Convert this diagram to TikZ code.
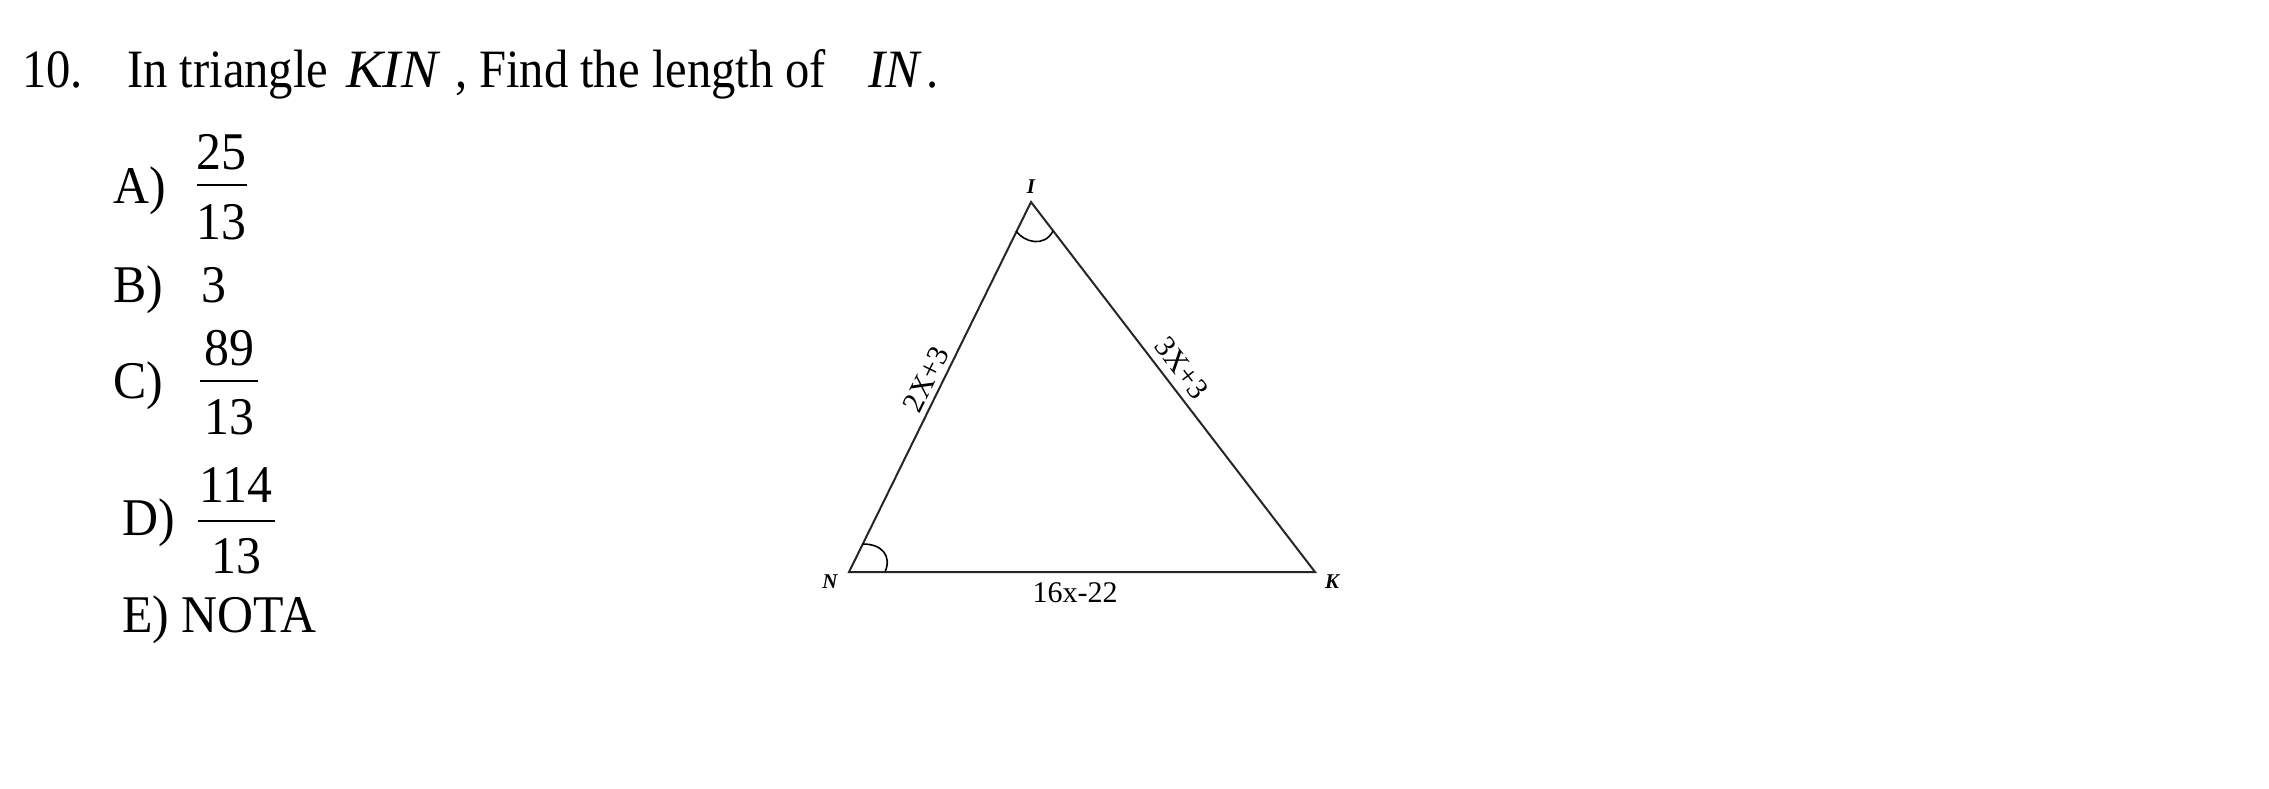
\documentclass[tikz,border=0pt]{standalone}
\usepackage{fontspec}
\setmainfont{Liberation Serif}
\newfontfamily\qfont[FakeStretch=0.9]{Liberation Serif}
\newfontfamily\qifont[FakeStretch=0.95]{Liberation Serif Italic}
\newfontfamily\kfont[FakeStretch=1.02]{Liberation Serif Italic}
\newfontfamily\afont[FakeStretch=0.94]{Liberation Serif}
\begin{document}
\begin{tikzpicture}[x=1pt,y=1pt,
  qtxt/.style={font=\qfont\fontsize{54}{60}\selectfont, inner sep=0pt},
  qitxt/.style={font=\qifont\fontsize{54}{60}\selectfont, inner sep=0pt},
  kitxt/.style={font=\kfont\fontsize{54}{60}\selectfont, inner sep=0pt},
  atxt/.style={font=\afont\fontsize{53}{60}\selectfont, inner sep=0pt},
  side/.style={draw=black!85, line width=2pt, line join=miter},
  angmark/.style={draw=black, line width=1.6pt},
  vlab/.style={font=\bfseries\itshape\fontsize{21}{24}\selectfont, inner sep=0pt},
  slab/.style={font=\fontsize{30}{34}\selectfont, inner sep=0pt},
  fbar/.style={draw=black, line width=2pt}]
\useasboundingbox (0,0) rectangle (2269,-788);

% question
\node[qtxt, anchor=base west] (num) at (22,-87) {10.};
\node[qtxt, anchor=base west] (q1) at (127,-87) {In triangle};
\node[kitxt, anchor=base west] (q2) at (346,-87) {KIN};
\node[qtxt, anchor=base west] (q3) at (455,-87) {,};
\node[qtxt, anchor=base west] (q4) at (479,-87) {Find the length of};
\node[qitxt, anchor=base west] (q5) at (868,-87) {IN};
\node[qtxt, anchor=base west] (q6) at (926,-87) {.};

% answers
\node[atxt, anchor=base west] (la) at (113,-203) {A)};
\node[atxt, anchor=base] (an) at (221,-169) {25};
\node[atxt, anchor=base] (ad) at (221,-239) {13};
\coordinate (ab1) at (197,-185); \coordinate (ab2) at (247,-185);
\draw[fbar] (ab1) -- (ab2);

\node[atxt, anchor=base west] (lb) at (113,-302) {B)};
\node[atxt, anchor=base west] (bv) at (201,-302) {3};

\node[atxt, anchor=base west] (lc) at (113,-398) {C)};
\node[atxt, anchor=base] (cn) at (229,-365) {89};
\node[atxt, anchor=base] (cd) at (229,-434) {13};
\coordinate (cb1) at (200,-381); \coordinate (cb2) at (258,-381);
\draw[fbar] (cb1) -- (cb2);

\node[atxt, anchor=base west] (ld) at (122,-535) {D)};
\node[atxt, anchor=base] (dn) at (236,-502) {114};
\node[atxt, anchor=base] (dd) at (236,-573) {13};
\coordinate (db1) at (198,-521); \coordinate (db2) at (275,-521);
\draw[fbar] (db1) -- (db2);

\node[atxt, anchor=base west] (le) at (122,-632) {E) NOTA};

% triangle
\coordinate (I) at (1031,-202);
\coordinate (N) at (849,-572);
\coordinate (K) at (1315,-572);
\draw[side] (N) -- (I) -- (K) -- cycle;

% angle marks
\draw[angmark] (1016,-231) .. controls (1024,-242) and (1044,-248) .. (1053,-231);
\draw[angmark] (863,-544) .. controls (882,-544) and (892,-556) .. (885,-572);

% vertex labels
\node[vlab] (lI) at (1031,-187) {I};
\node[vlab] (lN) at (830,-582) {N};
\node[vlab] (lK) at (1332,-582) {K};

% side labels
\node[slab, rotate=63.8] (sNI) at (926,-379) {2X+3};
\node[slab, rotate=-52.5] (sIK) at (1182,-368) {3X+3};
\node[slab] (sNK) at (1075,-593) {16x-22};
\end{tikzpicture}
\end{document}
